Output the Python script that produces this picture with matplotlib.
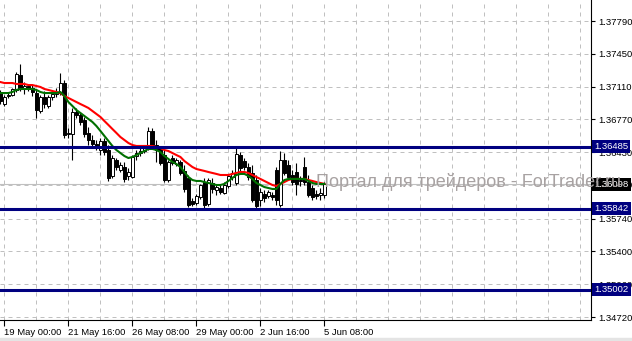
import matplotlib
matplotlib.use("Agg")
import matplotlib.pyplot as plt
from matplotlib.patches import Rectangle

# ---------------- data (H4 bars, 16 May 20:00 .. 5 Jun 08:00) ----------------
opens = [1.37043, 1.36929, 1.37012, 1.37023, 1.37075, 1.37230, 1.37095, 1.37116, 1.37095, 1.37043,
         1.36857, 1.37002, 1.36909, 1.37002, 1.37033, 1.37043, 1.37147, 1.36618, 1.36618, 1.36846,
         1.36815, 1.36764, 1.36629, 1.36556, 1.36515, 1.36452, 1.36546, 1.36452, 1.36183, 1.36349,
         1.36245, 1.36276, 1.36183, 1.36172, 1.36390, 1.36421, 1.36442, 1.36483, 1.36650, 1.36504,
         1.36473, 1.36400, 1.36141, 1.36369, 1.36307, 1.36328, 1.36235, 1.36162, 1.35923, 1.35902,
         1.35964, 1.36120, 1.35892, 1.36110, 1.36037, 1.36058, 1.36006, 1.36079, 1.36172, 1.36110,
         1.36400, 1.36338, 1.36276, 1.36214, 1.36141, 1.35934, 1.35996, 1.35975, 1.35985, 1.36245,
         1.35882, 1.36349, 1.36297, 1.36193, 1.36224, 1.36141, 1.36276, 1.36120, 1.36058, 1.35996,
         1.35985, 1.35985]
highs = [1.37075, 1.37023, 1.37043, 1.37095, 1.37261, 1.37344, 1.37157, 1.37137, 1.37126, 1.37075,
         1.37023, 1.37064, 1.37023, 1.37075, 1.37095, 1.37251, 1.37178, 1.36681, 1.36888, 1.36888,
         1.36846, 1.36795, 1.36691, 1.36608, 1.36556, 1.36577, 1.36577, 1.36504, 1.36400, 1.36369,
         1.36328, 1.36328, 1.36266, 1.36400, 1.36452, 1.36473, 1.36504, 1.36691, 1.36681, 1.36556,
         1.36494, 1.36452, 1.36349, 1.36400, 1.36369, 1.36349, 1.36297, 1.36193, 1.35954, 1.35996,
         1.36100, 1.36162, 1.36162, 1.36162, 1.36089, 1.36089, 1.36120, 1.36204, 1.36245, 1.36473,
         1.36431, 1.36369, 1.36318, 1.36297, 1.36193, 1.36058, 1.36037, 1.36037, 1.36016, 1.36276,
         1.36442, 1.36421, 1.36349, 1.36245, 1.36318, 1.36183, 1.36380, 1.36193, 1.36089, 1.36037,
         1.36058, 1.36120]
lows = [1.36929, 1.36909, 1.36992, 1.37012, 1.37054, 1.37064, 1.37033, 1.37064, 1.37012, 1.36784,
        1.36836, 1.36888, 1.36888, 1.36971, 1.37002, 1.37023, 1.36577, 1.36577, 1.36349, 1.36784,
        1.36712, 1.36587, 1.36504, 1.36473, 1.36452, 1.36400, 1.36400, 1.36131, 1.36162, 1.36245,
        1.36224, 1.36120, 1.36141, 1.36162, 1.36349, 1.36390, 1.36421, 1.36452, 1.36473, 1.36328,
        1.36297, 1.36120, 1.36120, 1.36297, 1.36287, 1.36193, 1.36016, 1.35861, 1.35871, 1.35882,
        1.35944, 1.35851, 1.35871, 1.36006, 1.35985, 1.35996, 1.35996, 1.36058, 1.36141, 1.36089,
        1.36224, 1.36245, 1.36141, 1.35913, 1.35851, 1.35871, 1.35913, 1.35954, 1.35934, 1.35882,
        1.35861, 1.36193, 1.36141, 1.36089, 1.35985, 1.36079, 1.36089, 1.35964, 1.35934, 1.35944,
        1.35934, 1.35954]
closes = [1.36961, 1.37002, 1.37023, 1.37085, 1.37241, 1.37095, 1.37116, 1.37095, 1.37054, 1.36867,
          1.37002, 1.36929, 1.37002, 1.37033, 1.37054, 1.37147, 1.36608, 1.36629, 1.36846, 1.36815,
          1.36743, 1.36618, 1.36556, 1.36515, 1.36494, 1.36546, 1.36431, 1.36162, 1.36369, 1.36276,
          1.36297, 1.36152, 1.36224, 1.36380, 1.36421, 1.36442, 1.36473, 1.36650, 1.36504, 1.36452,
          1.36318, 1.36141, 1.36328, 1.36318, 1.36349, 1.36214, 1.36048, 1.35882, 1.35892, 1.35975,
          1.36089, 1.35882, 1.36141, 1.36048, 1.36068, 1.36016, 1.36089, 1.36183, 1.36214, 1.36411,
          1.36266, 1.36276, 1.36172, 1.35934, 1.35871, 1.36016, 1.35954, 1.36016, 1.35964, 1.35934,
          1.36349, 1.36214, 1.36172, 1.36120, 1.36100, 1.36131, 1.36120, 1.35985, 1.35964, 1.35975,
          1.36006, 1.36098]
ma_red = [1.37157, 1.37147, 1.37147, 1.37147, 1.37137, 1.37137, 1.37137, 1.37126, 1.37126, 1.37116,
          1.37106, 1.37085, 1.37075, 1.37064, 1.37054, 1.37043, 1.37012, 1.36992, 1.36971, 1.36950,
          1.36929, 1.36909, 1.36888, 1.36857, 1.36826, 1.36795, 1.36753, 1.36712, 1.36670, 1.36629,
          1.36587, 1.36556, 1.36525, 1.36504, 1.36494, 1.36494, 1.36494, 1.36494, 1.36494, 1.36483,
          1.36473, 1.36452, 1.36442, 1.36421, 1.36400, 1.36380, 1.36338, 1.36307, 1.36276, 1.36255,
          1.36245, 1.36235, 1.36224, 1.36214, 1.36204, 1.36193, 1.36193, 1.36193, 1.36204, 1.36214,
          1.36224, 1.36224, 1.36214, 1.36193, 1.36172, 1.36152, 1.36131, 1.36110, 1.36089, 1.36079,
          1.36100, 1.36120, 1.36141, 1.36152, 1.36152, 1.36152, 1.36152, 1.36141, 1.36131, 1.36120,
          1.36110, 1.36100]
ma_green = [1.37043, 1.37043, 1.37043, 1.37054, 1.37075, 1.37085, 1.37085, 1.37085, 1.37085, 1.37075,
            1.37054, 1.37043, 1.37043, 1.37043, 1.37043, 1.37054, 1.37012, 1.36950, 1.36909, 1.36867,
            1.36836, 1.36805, 1.36774, 1.36743, 1.36701, 1.36650, 1.36598, 1.36546, 1.36494, 1.36452,
            1.36421, 1.36390, 1.36369, 1.36380, 1.36400, 1.36421, 1.36442, 1.36463, 1.36463, 1.36452,
            1.36431, 1.36390, 1.36359, 1.36328, 1.36307, 1.36276, 1.36224, 1.36172, 1.36141, 1.36131,
            1.36131, 1.36120, 1.36110, 1.36100, 1.36089, 1.36089, 1.36100, 1.36131, 1.36162, 1.36193,
            1.36204, 1.36204, 1.36183, 1.36152, 1.36110, 1.36089, 1.36068, 1.36058, 1.36048, 1.36048,
            1.36100, 1.36141, 1.36152, 1.36152, 1.36152, 1.36152, 1.36152, 1.36131, 1.36110, 1.36100,
            1.36100, 1.36100]

levels = [1.36485, 1.35842, 1.35002]
bid = 1.36098
price_ticks = [1.37790, 1.37450, 1.37110, 1.36770, 1.36430, 1.36090,
               1.35740, 1.35400, 1.35060, 1.34720]
time_tick_bars = [1, 17, 33, 49, 65, 81]
time_tick_labels = ["19 May 00:00", "21 May 16:00", "26 May 08:00",
                    "29 May 00:00", "2 Jun 16:00", "5 Jun 08:00"]
watermark = "Портал для трейдеров - ForTrader.ru"

# ---------------- figure ----------------
FONT = "Liberation Sans"
W, H = 632, 341
fig = plt.figure(figsize=(W / 100, H / 100), dpi=100, facecolor="white")
ax = fig.add_axes([0, 21 / H, 591 / W, 320 / H])
ax.set_facecolor("white")
ax.set_xlim(-0.1, 147.65)
ax.set_ylim(1.34689, 1.38008)

for s in ("left", "top"):
    ax.spines[s].set_visible(False)
for s in ("right", "bottom"):
    ax.spines[s].set_color("black")
    ax.spines[s].set_linewidth(0.8)

grid_kw = dict(color="#c0c0c0", lw=0.72, ls=(0, (4, 4)), zorder=1)
for gx in range(1, 148, 8):
    ax.axvline(gx, **grid_kw)
for gy in price_ticks:
    ax.axhline(gy, **grid_kw)

ax.axhline(bid, color="#c0c0c0", lw=0.8, zorder=1.2)

# candles
xs = list(range(len(opens)))
ax.vlines(xs, lows, highs, color="black", lw=0.8, zorder=2)
for x, o, c in zip(xs, opens, closes):
    bull = c >= o
    ax.bar(x, abs(c - o) if abs(c - o) > 0 else 0.00001, bottom=min(o, c), width=0.6,
           color="white" if bull else "black", edgecolor="black", linewidth=0.7, zorder=3)

ax.plot(xs, ma_red, color="#ff0000", lw=1.5, zorder=4)
ax.plot(xs, ma_green, color="#007000", lw=1.5, zorder=4.5)

for lv in levels:
    ax.axhline(lv, color="#000080", lw=2.2, zorder=5)

# axes ticks
ax.yaxis.tick_right()
ax.set_yticks(price_ticks)
ax.set_yticklabels([f"{p:.5f}" for p in price_ticks], fontsize=6.8, family=FONT)
ax.set_xticks(time_tick_bars)
ax.set_xticklabels(time_tick_labels, fontsize=6.8, family=FONT)
for lab in ax.get_xticklabels():
    lab.set_horizontalalignment("left")
ax.tick_params(axis="y", length=3, width=0.8, pad=2, colors="black")
ax.tick_params(axis="x", length=4, width=0.8, pad=2, colors="black")

# price labels on the right axis
ytr = ax.get_yaxis_transform()
for lv in levels:
    ax.text(1.0055, lv, f"{lv:.5f}", transform=ytr, ha="left", va="center",
            color="white", fontsize=6.8, family=FONT, zorder=10, clip_on=False,
            bbox=dict(boxstyle="square,pad=0.22", fc="#000080", ec="none"))
ax.text(1.0055, bid, f"{bid:.5f}", transform=ytr, ha="left", va="center",
        color="white", fontsize=6.8, family=FONT, zorder=10, clip_on=False,
        bbox=dict(boxstyle="square,pad=0.22", fc="black", ec="none"))

# watermark
ax.text(316 / 591, 1 - 187 / 320, watermark, transform=ax.transAxes, ha="left",
        va="baseline", fontsize=13, family=FONT, color="#a8a2a2", zorder=11,
        clip_on=False)

# bottom window border
fig.patches.append(Rectangle((0, 0), 1, 3 / H, transform=fig.transFigure,
                             color="#e4e4e4", zorder=0))

fig.savefig("out.png", dpi=100, facecolor="white")
